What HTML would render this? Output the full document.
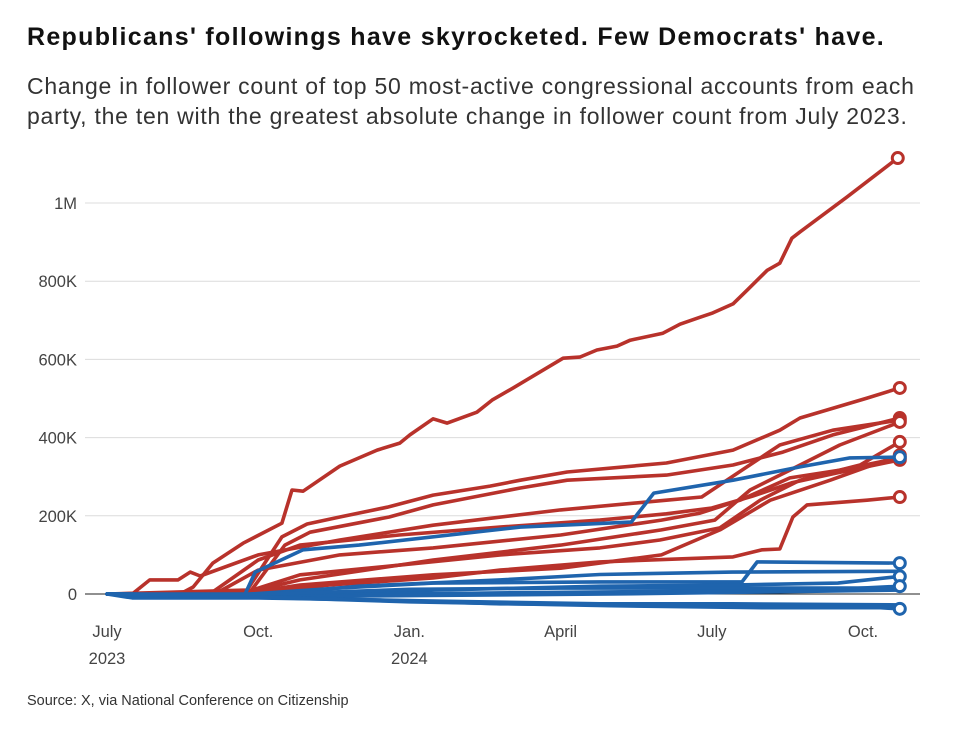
<!DOCTYPE html>
<html><head><meta charset="utf-8">
<style>
body{margin:0;background:#fff;font-family:"Liberation Sans",sans-serif;}
#wrap{position:relative;width:975px;height:734px;overflow:hidden;}
h1{position:absolute;left:27px;top:23px;margin:0;font-size:25px;letter-spacing:1.3px;font-weight:bold;color:#111;white-space:nowrap;}
.sub{position:absolute;left:27px;top:71px;width:940px;font-size:23px;letter-spacing:0.75px;line-height:30px;color:#333;white-space:nowrap;}
.src{position:absolute;left:27px;top:693px;font-size:14.5px;color:#333;}
svg{position:absolute;left:0;top:0;}
</style></head><body>
<div id="wrap">
<h1>Republicans' followings have skyrocketed. Few Democrats' have.</h1>
<div class="sub">Change in follower count of top 50 most-active congressional accounts from each<br>party, the ten with the greatest absolute change in follower count from July 2023.</div>
<div class="src">Source: X, via National Conference on Citizenship</div>
<svg id="chart" width="975" height="734"></svg>
</div>
<script>
// months since July 1 2023, values in thousands
const yTicks=[0,200,400,600,800,1000];
const yTickLabels=["0","200K","400K","600K","800K","1M"];
const xTicks=[0,3,6,9,12,15];
const xTickLabels=[["July","2023"],["Oct.",""],["Jan.","2024"],["April",""],["July",""],["Oct.",""]];
const redT=[
[0,1.45,1.71,2.10,2.70,3.47,3.67,3.89,4.62,5.36,5.81,6.01,6.47,6.75,7.34,7.64,8.06,9.05,9.38,9.72,10.12,10.38,11.03,11.37,11.77,12.02,12.42,12.70,13.10,13.35,13.59,13.75,14.68,15.69],
[0,2.78,3.47,3.97,4.62,5.56,6.47,7.6,8.2,9.13,11.1,12.42,13.35,13.75,15.08,15.73],
[0,2.84,3.53,4.03,5.6,6.47,8.2,9.13,11.1,12.42,13.41,14.4,15.73],
[0,0.5,0.85,1.41,1.65,1.85,3.0,4.62,6.47,9,11.1,11.8,12.6,13.35,14.4,15.73],
[0,2.04,3,3.83,5.8,7.8,9.78,11.1,12.0,12.8,13.6,14.5,15.73],
[0,2.14,3,4.62,6.47,9,11,11.77,12.56,13.55,14.54,15.73],
[0,2.64,3.83,5.81,7.8,9.78,10.97,12.16,12.96,13.75,14.94,15.73],
[0,2.74,4.42,6.47,7.8,9.78,12.42,13.0,13.35,13.61,13.89,15.08,15.73],
[0,2.64,3.83,6.47,9,11,12.06,12.76,13.55,14.54,15.73],
[0,2.64,3.83,6.47,9,11,12.16,13.16,14.35,15.73]];
const redV=[
[0,0,18,79,130,181,266,263,327,368,386,407,448,437,465,496,527,603,606,624,634,649,667,690,708,719,742,777,828,846,910,926,1015,1115],
[0,10,146,179,197,222,253,276,291,312,335,368,419,450,501,527],
[0,5,125,158,197,228,271,291,304,330,363,407,450],
[0,0,36,36,56,46,100,138,176,215,240,248,317,381,419,445],
[0,0,87,125,151,171,189,205,220,250,285,310,343],
[0,0,61,100,118,151,189,207,240,297,317,348],
[0,0,49,74,100,118,138,169,240,291,330,389],
[0,0,23,41,61,82,95,113,115,197,228,240,248],
[0,0,36,87,125,164,189,266,317,381,440],
[0,0,23,49,66,100,164,240,291,355]];
const blueT=[
[0,2.74,2.94,3.89,5.0,8.2,10.4,10.85,12.42,13.75,14.74,15.73],
[0,2.5,4.6,6.47,9.78,12.6,12.9,15.73],
[0,3.0,5.0,7.8,9.78,12.4,15.73],
[0,3.5,6.5,9.8,12.4,14.5,15.73],
[0,4,8,12,14.5,15.73],
[0,5,10,15.73],
[0,0.5,3,6.5,9.78,12.4,15.73],
[0,1,4,7.8,12,14.5,15.73],
[0,3,6,10,13,15.73],
[0,2,4,6,9,15.73]];
const blueV=[
[0,0,56,113,125,171,184,258,291,325,348,350],
[0,-3,15,28,31,31,82,79],
[0,-3,20,36,50,56,58],
[0,-5,10,20,23,28,45],
[0,-3,3,8,12,20],
[0,-5,0,10],
[0,-10,-10,-18,-25,-25,-28],
[0,-5,-10,-25,-30,-28,-38],
[0,-8,-20,-30,-35,-35],
[0,-3,3,12,15,15]];
const redMarked=[true,true,true,true,true,true,true,true,true,true];
const blueMarked=[true,true,false,true,true,false,false,true,false,false];

const NS="http://www.w3.org/2000/svg";
const svg=document.getElementById('chart');
function x(t){return 107+t*50.4;}
function y(v){return 594-v*0.391;}
function mk(tag,attrs){const e=document.createElementNS(NS,tag);for(const k in attrs)e.setAttribute(k,attrs[k]);svg.appendChild(e);return e;}
yTicks.forEach((v,i)=>{
  if(v!==0){
    const g=mk('line',{x1:85,x2:920,y1:y(v),y2:y(v),stroke:'#dcdcdc','stroke-width':1});
    
    
  }
  const tx=mk('text',{x:77,y:y(v)+6,'text-anchor':'end','font-size':16.5,fill:'#444','font-family':'Liberation Sans, sans-serif'});
  tx.textContent=yTickLabels[i];
  
  
});
xTicks.forEach((t,i)=>{
  const a=mk('text',{x:x(t),y:637,'text-anchor':'middle','font-size':16.5,fill:'#444','font-family':'Liberation Sans, sans-serif'});
  a.textContent=xTickLabels[i][0];
  
  
  if(xTickLabels[i][1]){
    const b=mk('text',{x:x(t),y:664,'text-anchor':'middle','font-size':16.5,fill:'#444','font-family':'Liberation Sans, sans-serif'});
    b.textContent=xTickLabels[i][1];
    
    
  }
});
function drawSeries(T,V,marked,color,party){
  T.forEach((ts,i)=>{
    const d=ts.map((t,j)=>(j?'L':'M')+x(t).toFixed(1)+' '+y(V[i][j]).toFixed(1)).join(' ');
    const p=mk('path',{d:d,fill:'none',stroke:color,'stroke-width':3.6,'stroke-linejoin':'round','stroke-linecap':'round'});
    
    
  });
  T.forEach((ts,i)=>{
    if(!marked[i])return;
    const n=ts.length-1;
    const c=mk('circle',{cx:x(ts[n]),cy:y(V[i][n]),r:5.5,fill:'#fff',stroke:color,'stroke-width':3});
    
    
  });
}
drawSeries(redT,redV,redMarked,'#b8322b','republican');
const z=mk('line',{x1:85,x2:920,y1:y(0),y2:y(0),stroke:'#222','stroke-width':1});


drawSeries(blueT,blueV,blueMarked,'#1f64ad','democrat');
</script>
</body></html>
